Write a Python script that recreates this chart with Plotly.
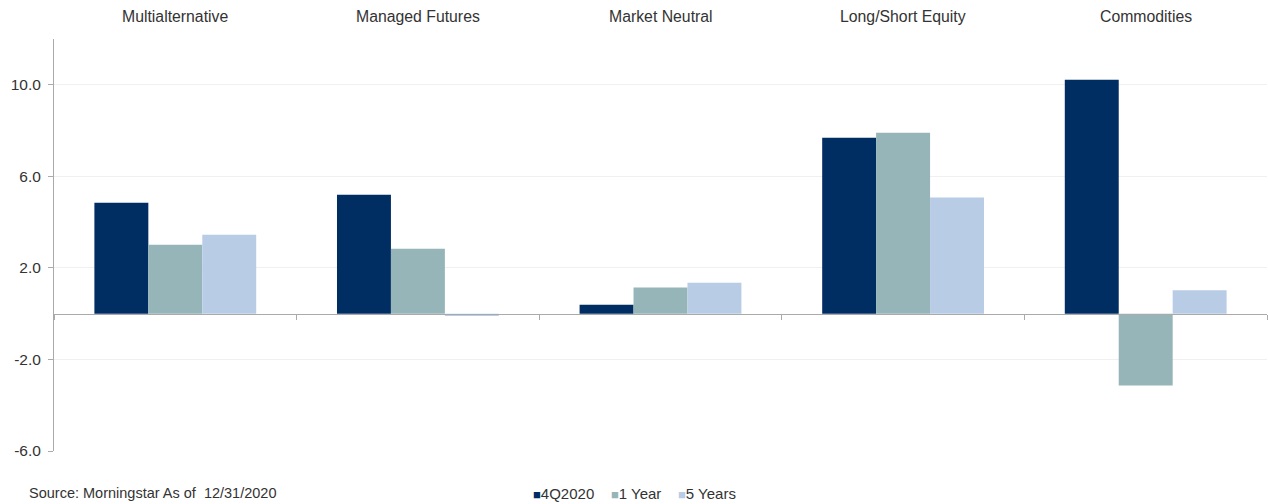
import plotly.graph_objects as go

categories = ["Multialternative", "Managed Futures", "Market Neutral", "Long/Short Equity", "Commodities"]
q4_2020 = [4.85, 5.2, 0.39, 7.69, 10.22]
one_year = [3.01, 2.84, 1.14, 7.9, -3.14]
five_years = [3.45, -0.1, 1.35, 5.07, 1.02]
series_names = ["4Q2020", "1 Year", "5 Years"]
colors = ["#002D62", "#95B5B8", "#B8CCE6"]
y_ticks = [-6, -2, 2, 6, 10]
y_tick_text = [f"{v:.1f}" for v in y_ticks]

fig = go.Figure()
for name, vals, c in zip(series_names, [q4_2020, one_year, five_years], colors):
    fig.add_trace(go.Bar(x=categories, y=vals, name=name, marker=dict(color=c, line=dict(width=0)),
                         showlegend=False))

for cat in categories:
    fig.add_annotation(x=cat, y=1.0, xref="x", yref="paper", yanchor="bottom", yshift=12,
                       text=cat, showarrow=False, font=dict(size=15.8, color="#333333"))

fig.add_annotation(x=-0.022, y=-0.102, xref="paper", yref="paper", xanchor="left", yanchor="middle",
                   text="Source: Morningstar As of  12/31/2020",
                   showarrow=False, font=dict(size=14.5, color="#333333"))

legend_text = "&nbsp;&nbsp;&nbsp;&nbsp;".join(
    f"<span style='color:{c};font-size:13px'>■</span>{n}" for n, c in zip(series_names, colors))
fig.add_annotation(x=0.4785, y=-0.102, xref="paper", yref="paper", xanchor="center", yanchor="middle",
                   text=legend_text, showarrow=False, font=dict(size=15, color="#333333"))

fig.update_layout(
    width=1268, height=504,
    margin=dict(l=54, r=1, t=39, b=53, autoexpand=False),
    paper_bgcolor="white", plot_bgcolor="white",
    barmode="group", bargap=0.333, bargroupgap=0,
    font=dict(family="Liberation Sans, Arial, sans-serif", size=15, color="#333333"),
    showlegend=False,
)
fig.update_xaxes(showticklabels=False, anchor="free", position=1/3, showline=True, linecolor="#AAAAAA",
                 linewidth=1, ticks="outside", tickson="boundaries", ticklen=5, tickcolor="#AAAAAA",
                 showgrid=False, zeroline=False)
fig.update_yaxes(range=[-6, 12], tickvals=y_ticks, ticktext=y_tick_text, showline=True, linecolor="#AAAAAA",
                 ticks="outside", ticklen=5, tickcolor="#AAAAAA", ticklabelstandoff=4,
                 showgrid=True, gridcolor="#F0F0F0",
                 zeroline=False, tickfont=dict(size=15.5, color="#333333"))

fig.write_html("out.html")
